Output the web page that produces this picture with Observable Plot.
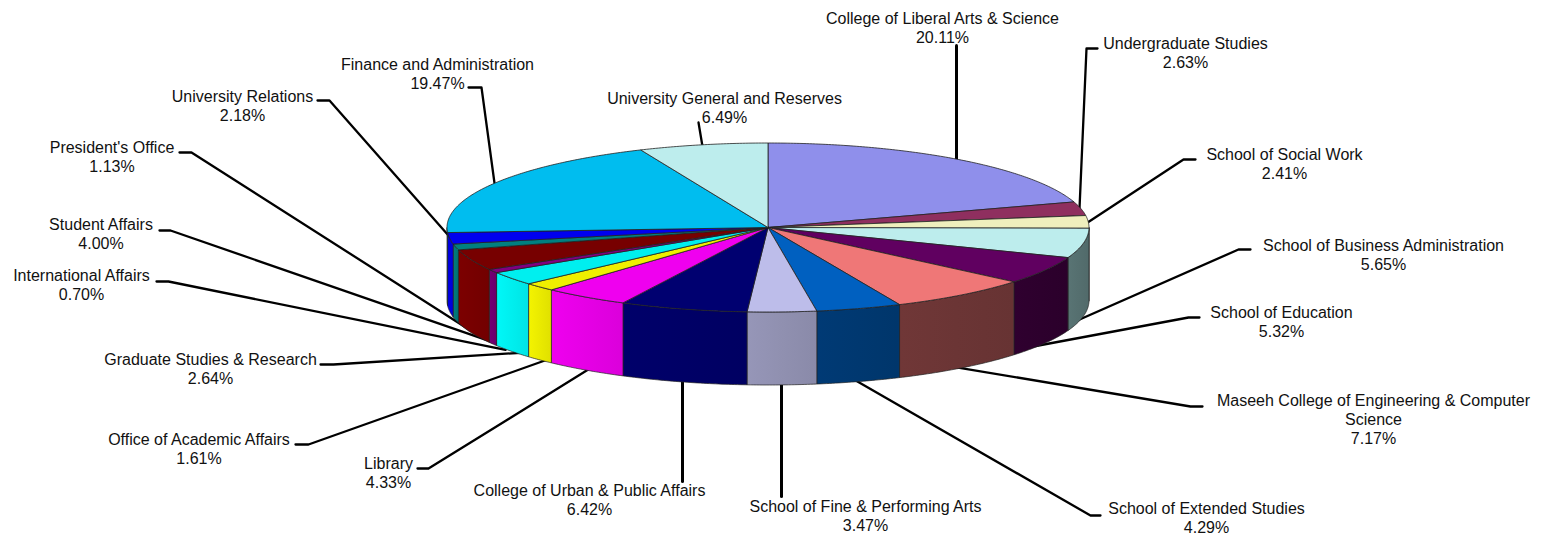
<!DOCTYPE html>
<html>
<head>
<meta charset="utf-8">
<script src="https://cdn.jsdelivr.net/npm/d3@7"></script>
<script src="https://cdn.jsdelivr.net/npm/@observablehq/plot@0.6"></script>
<style>html,body{margin:0;padding:0;background:#fff;overflow:hidden}svg{display:block}</style>
</head>
<body>
<div id="chart"></div>
<script>
// --- data, clockwise from 12 o'clock ---
const names = ["College of Liberal Arts & Science","Undergraduate Studies","School of Social Work","School of Business Administration","School of Education","Maseeh College of Engineering & Computer\nScience","School of Extended Studies","School of Fine & Performing Arts","College of Urban & Public Affairs","Library","Office of Academic Affairs","Graduate Studies & Research","International Affairs","Student Affairs","President's Office","University Relations","Finance and Administration","University General and Reserves"];
const shares = [20.11,2.63,2.41,5.65,5.32,7.17,4.29,3.47,6.42,4.33,1.61,2.64,0.70,4.00,1.13,2.18,19.47,6.49];
const topColors = ["#8f8feb","#8f2f5f","#efefbd","#bdeded","#600060","#ef7777","#0060c0","#bdbdea","#000070","#ef00ef","#efef00","#00efef","#800080","#770000","#008080","#0000ef","#00bdef","#bdeded"];
const sideColors = ["#5f5f9f","#5f1f3f","#9f9f7f","#556f6f","#2d002d","#6b3535","#003870","#9090b0","#000066","#e500e5","#eaea00","#00eeee","#700070","#770000","#007878","#0000e0","#0080a0","#7f9f9f"];
// --- layout ---
const W = 1541, H = 536;
const cx = 767.5, cy = 227, rx = 321, ry = 84.5, depth = 73;
const labelX = [942,1185,1284,1383,1281,1373,1206,865,589,388,198.5,210,81,100.5,111.5,242,437,724];
const labelY = [10,35,146,237,304,392,500,498,482,455,431,351,267,216,139,88,56,90];
const leaderPaths = [
  [[956,45],[956,165]],
  [[1097,48],[1086,48],[1079,208]],
  [[1195,159],[1183,159],[1078,228]],
  [[1250,249],[1238,249],[1070,323]],
  [[1199,317],[1188,317],[1030,346.5]],
  [[1202,406],[1190,406],[950,365.8]],
  [[1100,515],[1090,515],[850,377]],
  [[781,380],[781,496]],
  [[682,378],[682,481]],
  [[417,468],[428,468],[595,364.6]],
  [[295,444],[308,444],[550,358]],
  [[320,364],[333,364],[525,352]],
  [[156,281],[168,281],[505,349.4]],
  [[159,230],[170,230],[495,342.6]],
  [[179,152],[191,152],[470,330]],
  [[317,100],[329,100],[455,243]],
  [[468,87],[481,87],[495,190]],
  [[698,122],[703,152]]
];

const arcs = d3.pie().sort(null).value(d => d).startAngle(0).endAngle(2 * Math.PI)(shares);
const px = a => cx + rx * Math.sin(a);
const py = a => cy - ry * Math.cos(a);
const sampled = (a0, a1) => {
  const n = Math.max(2, Math.ceil((a1 - a0) / 0.01));
  return d3.range(n + 1).map(i => a0 + (a1 - a0) * i / n);
};
const tops = arcs.flatMap((d, i) => {
  const pts = sampled(d.startAngle, d.endAngle).map(a => ({x: px(a), y: py(a)}));
  return [{x: cx, y: cy}, ...pts, {x: cx, y: cy}].map(p => ({...p, z: i, c: topColors[i]}));
});
const sides = arcs.flatMap((d, i) => {
  const a0 = Math.max(d.startAngle, Math.PI / 2), a1 = Math.min(d.endAngle, 3 * Math.PI / 2);
  if (a1 <= a0) return [];
  const as = sampled(a0, a1);
  const pts = [...as.map(a => ({x: px(a), y: py(a)})), ...as.slice().reverse().map(a => ({x: px(a), y: py(a) + depth}))];
  pts.push(pts[0]);
  return pts.map(p => ({...p, z: i, c: `url(#side${i})`}));
});
const leaders = leaderPaths.flatMap((p, i) => p.map(([x, y]) => ({x, y, z: i, w: p.length === 2 && i !== 17 ? 3 : 2.3})));
const labels = names.map((n, i) => ({x: labelX[i], y: labelY[i], t: `${n}\n${shares[i].toFixed(2)}%`}));

// subtle horizontal shading of the rim, derived from each slice's side colour
const gradients = () => {
  const defs = d3.create("svg:defs");
  sideColors.forEach((c, i) => {
    const g = defs.append("linearGradient").attr("id", `side${i}`);
    [[0, d3.color(c).brighter(0.12)], [0.5, d3.color(c)], [1, d3.color(c).darker(0.12)]].forEach(([o, col]) =>
      g.append("stop").attr("offset", o).attr("stop-color", col.formatHex()));
  });
  return defs.node();
};

const chart = Plot.plot({
  width: W, height: H, margin: 0,
  x: {domain: [0, W], range: [0, W], axis: null},
  y: {domain: [0, H], range: [0, H], axis: null},
  color: {type: "identity"},
  style: {background: "#fff"},
  marks: [
    gradients,
    Plot.line(leaders, {x: "x", y: "y", z: "z", stroke: "#000", strokeWidth: "w", curve: "linear"}),
    Plot.line(sides, {x: "x", y: "y", z: "z", fill: "c", stroke: "#222", strokeWidth: 0.7, curve: "linear"}),
    Plot.line(tops, {x: "x", y: "y", z: "z", fill: "c", stroke: "#222", strokeWidth: 0.8, curve: "linear"}),
    Plot.text(labels, {x: "x", y: "y", text: "t", textAnchor: "middle", lineAnchor: "top", lineHeight: 1.19, fontSize: 16, fontFamily: "'Liberation Sans', Arial, sans-serif", fill: "#111"})
  ]
});
document.getElementById("chart").append(chart);
</script>
</body>
</html>
